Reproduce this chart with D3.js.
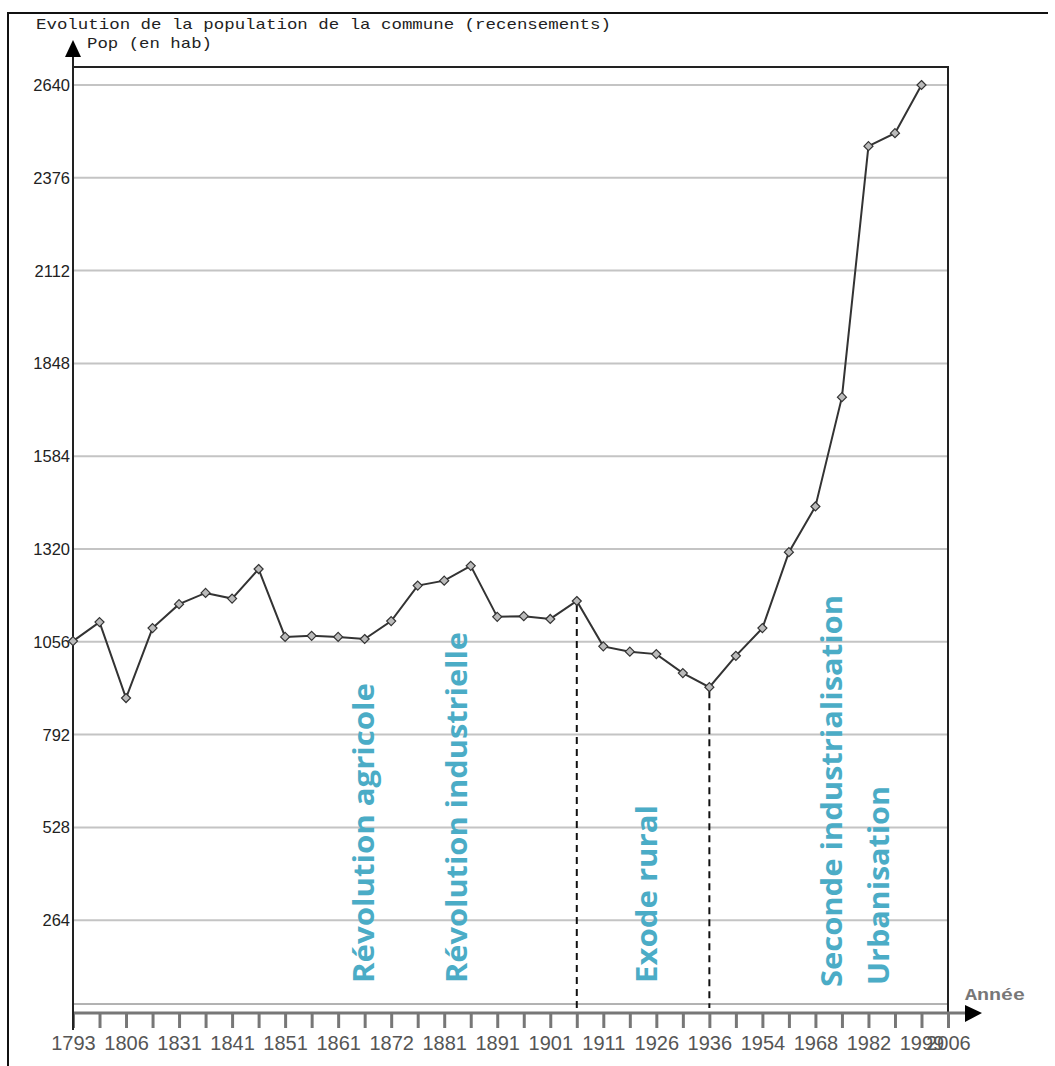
<!DOCTYPE html>
<html><head><meta charset="utf-8">
<script src="https://cdn.jsdelivr.net/npm/d3@7"></script>
<style>body{margin:0;background:#fff}</style>
</head><body>
<svg id="chart" width="1055" height="1066"></svg>
<script>
// ---- data ----
const years = ["1793","1800","1806","1821","1831","1836","1841","1846","1851","1856","1861","1866","1872","1876","1881","1886","1891","1896","1901","1906","1911","1921","1926","1931","1936","1946","1954","1962","1968","1975","1982","1990","1999","2006"];
const population = [1058,1112,896,1095,1163,1195,1179,1263,1070,1073,1070,1064,1115,1216,1230,1272,1127,1129,1121,1172,1043,1028,1021,967,927,1016,1095,1311,1441,1752,2466,2503,2640];
const yTicks = [264,528,792,1056,1320,1584,1848,2112,2376,2640];
const labelYears = ["1793","1806","1831","1841","1851","1861","1872","1881","1891","1901","1911","1926","1936","1954","1968","1982","1999","2006"];
const markerYears = ["1906","1936"];
const annotations = ["Révolution agricole","Révolution industrielle","Exode rural","Seconde industrialisation","Urbanisation"];
const annotationYears = ["1866","1886","1926","1975","1990"];
const titleText = "Evolution de la population de la commune (recensements)";
const yAxisTitle = "Pop (en hab)";
const xAxisTitle = "Année";

// ---- layout ----
const svg = d3.select("#chart");
const L = 73, R = 948, T = 67, B = 1013;
const x = d3.scalePoint().domain(years).range([L, R]);
const y = d3.scaleLinear().domain([0, 2640]).range([B, 85]);
const data = population.map((v, i) => ({year: years[i], v}));

// outer frame
svg.append("path").attr("d", "M8,1066 L8,13 L1048,13")
  .attr("fill", "none").attr("stroke", "#111").attr("stroke-width", 2);

// title
svg.append("text").attr("x", 36).attr("y", 29)
  .attr("font-family", "Liberation Mono, DejaVu Sans Mono, monospace").attr("font-size", 15)
  .attr("fill", "#222").attr("textLength", 575).attr("lengthAdjust", "spacingAndGlyphs")
  .text(titleText);
svg.append("text").attr("x", 87).attr("y", 48)
  .attr("font-family", "Liberation Mono, DejaVu Sans Mono, monospace").attr("font-size", 15)
  .attr("fill", "#222").attr("textLength", 125).attr("lengthAdjust", "spacingAndGlyphs")
  .text(yAxisTitle);

// gridlines
svg.append("g").selectAll("line").data(yTicks).join("line")
  .attr("x1", L).attr("x2", R).attr("y1", d => y(d)).attr("y2", d => y(d))
  .attr("stroke", "#c4c4c4").attr("stroke-width", 2);

// y labels
svg.append("g").selectAll("text").data(yTicks).join("text")
  .attr("x", 70).attr("y", d => y(d) + 6).attr("text-anchor", "end")
  .attr("font-family", "Liberation Sans, Arial, sans-serif").attr("font-size", 16.5)
  .attr("fill", "#222").text(d => d);

// thin baseline above axis
svg.append("line").attr("x1", L).attr("x2", R).attr("y1", 1004).attr("y2", 1004)
  .attr("stroke", "#666").attr("stroke-width", 1);

// plot frame top + right
svg.append("path").attr("d", `M${L},${T} L${R},${T} L${R},${B}`)
  .attr("fill", "none").attr("stroke", "#222").attr("stroke-width", 2);

// x axis
const xAxis = d3.axisBottom(x).tickSize(15).tickFormat(d => labelYears.includes(d) ? d : "");
const gx = svg.append("g").attr("transform", `translate(0,${B})`).call(xAxis);
gx.select(".domain").remove();
gx.selectAll(".tick line").attr("stroke", "#777").attr("stroke-width", 3);
gx.selectAll(".tick text").attr("font-family", "Liberation Sans, Arial, sans-serif")
  .attr("font-size", 20).attr("fill", "#555").attr("y", 23);
svg.append("line").attr("x1", L).attr("x2", 966).attr("y1", B).attr("y2", B)
  .attr("stroke", "#777").attr("stroke-width", 3);
svg.append("path").attr("d", `M965,1005 L982,${B} L965,1022 Z`).attr("fill", "#000");
svg.append("text").attr("x", 965).attr("y", 1000)
  .attr("font-family", "Liberation Mono, DejaVu Sans Mono, monospace").attr("font-size", 16)
  .attr("font-weight", "bold")
  .attr("fill", "#777").attr("textLength", 60).attr("lengthAdjust", "spacingAndGlyphs")
  .text(xAxisTitle);

// y axis
svg.append("line").attr("x1", L).attr("x2", L).attr("y1", 55).attr("y2", 1030)
  .attr("stroke", "#222").attr("stroke-width", 2);
svg.append("path").attr("d", `M${L},40 L${L+8},57 L${L-8},57 Z`).attr("fill", "#000");

// dashed markers
svg.append("g").selectAll("line").data(markerYears).join("line")
  .attr("x1", d => x(d)).attr("x2", d => x(d))
  .attr("y1", d => y(population[years.indexOf(d)]) + 4).attr("y2", 1008)
  .attr("stroke", "#111").attr("stroke-width", 2).attr("stroke-dasharray", "7,5");

// line
svg.append("path").datum(data)
  .attr("d", d3.line().x(d => x(d.year)).y(d => y(d.v)))
  .attr("fill", "none").attr("stroke", "#333").attr("stroke-width", 2);
svg.append("g").selectAll("path").data(data).join("path")
  .attr("d", "M0,-4.5 L4.5,0 L0,4.5 L-4.5,0 Z")
  .attr("transform", d => `translate(${x(d.year)},${y(d.v)})`)
  .attr("fill", "#bbb").attr("stroke", "#333").attr("stroke-width", 1.2);

// annotations
const annDx = [9.5, -4, 1, 0, -6];
const annBottom = [983, 983, 983, 987, 985];
const annLen = [300, 351, 178, 392, 199];
svg.append("g").selectAll("text").data(annotations).join("text")
  .attr("transform", (d, i) => `translate(${x(annotationYears[i]) + annDx[i]},${annBottom[i]}) rotate(-90)`)
  .attr("font-family", "Open Sans, Lato, sans-serif").attr("font-weight", "bold")
  .attr("font-size", 28).attr("fill", "#4bacc6")
  .attr("textLength", (d, i) => annLen[i]).attr("lengthAdjust", "spacingAndGlyphs")
  .text(d => d);
</script>
</body></html>
